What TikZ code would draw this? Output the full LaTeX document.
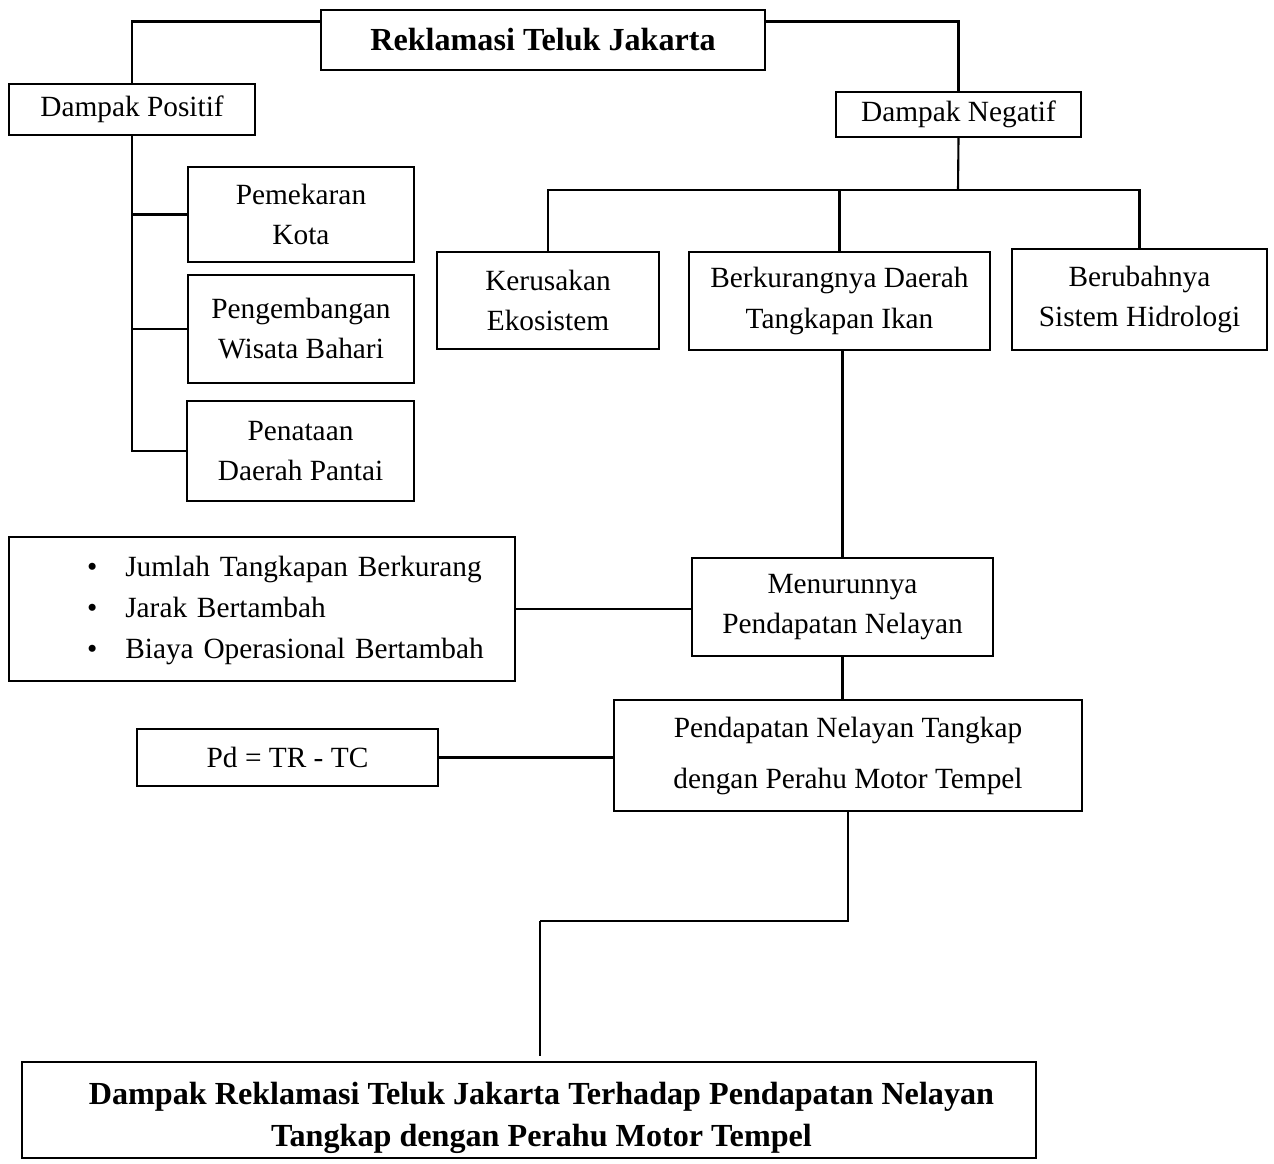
\documentclass[tikz,border=0pt]{standalone}
\usepackage{fontspec}
\setmainfont{Liberation Serif}
\usetikzlibrary{calc}

\begin{document}
\begin{tikzpicture}[x=0.02cm,y=-0.02cm,
  kotak/.style={draw,line width=0.8pt,align=center,inner sep=0pt,
    font=\fontsize{16.7}{22.8}\selectfont},
  judul/.style={kotak,font=\fontsize{18.3}{24}\selectfont\bfseries},
  garis/.style={line width=1.2pt}]

\useasboundingbox (0,0) rectangle (1274,1163);

%------------------------
% Top and its two branches
%------------------------
\node[judul,minimum width=8.88cm,minimum height=1.2cm] (reklamasi) at (543,40) {Reklamasi Teluk Jakarta};
\node[kotak,minimum width=4.92cm,minimum height=1.02cm] (positif) at (132,109.5) {Dampak Positif};
\node[kotak,minimum width=4.9cm,minimum height=0.9cm] (negatif) at (958.5,114.5) {Dampak Negatif};

\draw[garis,line width=1.6pt] ([yshift=-0.24cm]reklamasi.north west) -| (positif.north);
\draw[garis,line width=1.6pt] ([yshift=-0.24cm]reklamasi.north east) -| (negatif.north);

%------------------------
% Dampak positif
%------------------------
\node[kotak,minimum width=4.52cm,minimum height=1.9cm] (kota) at (301,214.5) {Pemekaran\\Kota};
\node[kotak,minimum width=4.52cm,minimum height=2.16cm] (wisata) at (301,329) {Pengembangan\\Wisata Bahari};
\node[kotak,minimum width=4.54cm,minimum height=2cm] (pantai) at (300.5,451) {Penataan\\Daerah Pantai};

\draw[garis] (positif.south) |- (pantai.west);
\draw[garis] (positif.south |- kota.west) -- (kota.west);
\draw[garis] (positif.south |- wisata.west) -- (wisata.west);

%------------------------
% Dampak negatif
%------------------------
\node[kotak,minimum width=4.44cm,minimum height=1.94cm] (ekosistem) at (548,300.5) {Kerusakan\\Ekosistem};
\node[kotak,minimum width=6.02cm,minimum height=1.96cm] (tangkapan) at (839.5,301) {Berkurangnya Daerah\\Tangkapan Ikan};
\node[kotak,minimum width=5.1cm,minimum height=2.02cm] (hidrologi) at (1139.5,299.5) {Berubahnya\\Sistem Hidrologi};

\coordinate (cabang) at (958,190);
\draw[garis] (negatif.south) -- (cabang);
\draw[garis,line width=1.6pt] (ekosistem.north) |- (hidrologi.north |- cabang) -- (hidrologi.north);
\draw[garis] (tangkapan.north) -- (tangkapan.north |- cabang);

%------------------------
% Pendapatan nelayan
%------------------------
\node[kotak,minimum width=6.02cm,minimum height=1.96cm] (menurun) at (842.5,607) {Menurunnya\\Pendapatan Nelayan};
\node[kotak,minimum width=10.12cm,minimum height=2.88cm,text width=10.12cm,align=left,
  font=\fontsize{16.7}{23.4}\selectfont] (sebab) at (262,609)
  {\begin{tabular}{@{\hspace{1.56cm}}l@{\hspace{0.56cm}}l@{}}
    \textbullet & Jumlah Tangkapan Berkurang\\
    \textbullet & Jarak Bertambah\\
    \textbullet & Biaya Operasional Bertambah
  \end{tabular}};
\node[kotak,minimum width=9.36cm,minimum height=2.22cm,
  font=\fontsize{16.7}{29}\selectfont] (tempel) at (848,755.5) {Pendapatan Nelayan Tangkap\\dengan Perahu Motor Tempel};
\node[kotak,minimum width=6.02cm,minimum height=1.14cm] (rumus) at (287.5,757.5) {Pd = TR - TC};

\draw[garis] (menurun.north |- tangkapan.south) -- (menurun.north);
\draw[garis] (sebab.east) -- (sebab.east -| menurun.west);
\draw[garis] (menurun.south) -- (menurun.south |- tempel.north);
\draw[garis] (rumus.east) -- (rumus.east -| tempel.west);

%------------------------
% Kesimpulan
%------------------------
\node[judul,minimum width=20.28cm,minimum height=1.92cm] (dampak) at (529,1110)
  {\rule{0pt}{21.5pt}\hspace*{0.5cm}Dampak Reklamasi Teluk Jakarta Terhadap Pendapatan Nelayan\\
   \hspace*{0.5cm}Tangkap dengan Perahu Motor Tempel};

\coordinate (siku) at (540,921);
\draw[garis] (tempel.south) |- (siku);
\draw[garis,shorten >=0.1cm] (siku) -- (siku |- dampak.north);

\end{tikzpicture}
\end{document}
